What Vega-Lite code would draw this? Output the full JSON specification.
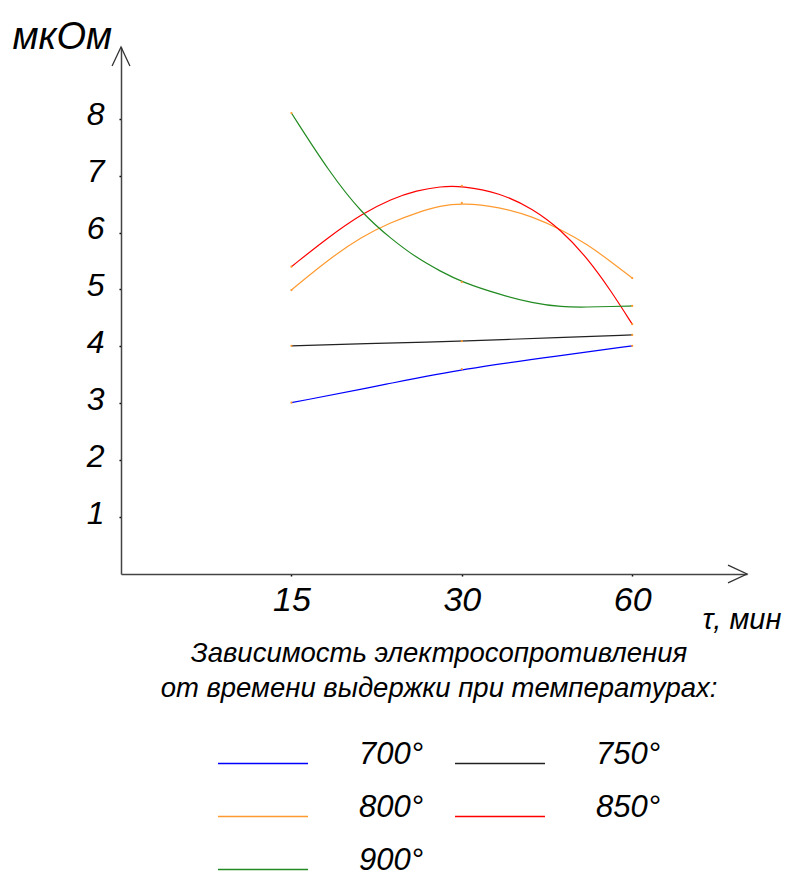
{
  "$schema": "https://vega.github.io/schema/vega-lite/v6.json",
  "width": 626,
  "height": 527,
  "autosize": {"type": "none"},
  "padding": {"left": 121, "top": 47, "right": 38, "bottom": 298},
  "background": "white",
  "config": {
    "font": "Liberation Sans",
    "view": {"stroke": null},
    "axis": {"grid": false}
  },
  "datasets": {
    "curves": [
      {"t": 15, "R": 3.01, "T": "700°"},
      {"t": 22.5, "R": 3.35, "T": "700°"},
      {"t": 30, "R": 3.6, "T": "700°"},
      {"t": 45, "R": 3.84, "T": "700°"},
      {"t": 60, "R": 4.01, "T": "700°"},
      {"t": 15, "R": 4.01, "T": "750°"},
      {"t": 22.5, "R": 4.06, "T": "750°"},
      {"t": 30, "R": 4.09, "T": "750°"},
      {"t": 45, "R": 4.16, "T": "750°"},
      {"t": 60, "R": 4.2, "T": "750°"},
      {"t": 15, "R": 4.99, "T": "800°"},
      {"t": 17.5, "R": 5.54, "T": "800°"},
      {"t": 20, "R": 5.93, "T": "800°"},
      {"t": 22.5, "R": 6.18, "T": "800°"},
      {"t": 25, "R": 6.35, "T": "800°"},
      {"t": 27.5, "R": 6.47, "T": "800°"},
      {"t": 30, "R": 6.52, "T": "800°"},
      {"t": 35, "R": 6.45, "T": "800°"},
      {"t": 40, "R": 6.28, "T": "800°"},
      {"t": 45, "R": 6.05, "T": "800°"},
      {"t": 50, "R": 5.79, "T": "800°"},
      {"t": 55, "R": 5.49, "T": "800°"},
      {"t": 60, "R": 5.2, "T": "800°"},
      {"t": 15, "R": 5.4, "T": "850°"},
      {"t": 17.5, "R": 5.93, "T": "850°"},
      {"t": 20, "R": 6.33, "T": "850°"},
      {"t": 22.5, "R": 6.59, "T": "850°"},
      {"t": 25, "R": 6.74, "T": "850°"},
      {"t": 27.5, "R": 6.81, "T": "850°"},
      {"t": 30, "R": 6.82, "T": "850°"},
      {"t": 35, "R": 6.7, "T": "850°"},
      {"t": 40, "R": 6.42, "T": "850°"},
      {"t": 45, "R": 6.04, "T": "850°"},
      {"t": 50, "R": 5.55, "T": "850°"},
      {"t": 55, "R": 4.98, "T": "850°"},
      {"t": 60, "R": 4.39, "T": "850°"},
      {"t": 15, "R": 8.1, "T": "900°"},
      {"t": 17.5, "R": 7.06, "T": "900°"},
      {"t": 20, "R": 6.33, "T": "900°"},
      {"t": 22.5, "R": 5.89, "T": "900°"},
      {"t": 25, "R": 5.55, "T": "900°"},
      {"t": 27.5, "R": 5.32, "T": "900°"},
      {"t": 30, "R": 5.13, "T": "900°"},
      {"t": 35, "R": 4.91, "T": "900°"},
      {"t": 40, "R": 4.76, "T": "900°"},
      {"t": 45, "R": 4.69, "T": "900°"},
      {"t": 50, "R": 4.69, "T": "900°"},
      {"t": 55, "R": 4.7, "T": "900°"},
      {"t": 60, "R": 4.71, "T": "900°"}
    ],
    "arrows": [
      {"t": 95.7, "R": 0, "dir": "x"},
      {"t": 7.5, "R": 9.26, "dir": "y"}
    ]
  },
  "layer": [
    {
      "data": {"name": "curves"},
      "mark": {"type": "line", "interpolate": "basis", "strokeWidth": 1.2},
      "encoding": {
        "x": {
          "field": "t",
          "type": "quantitative",
          "scale": {"type": "log", "base": 2, "domain": [7.5, 95.7], "nice": false, "zero": false},
          "axis": {
            "values": [15, 30, 60],
            "format": "d",
            "tickSize": 2,
            "tickWidth": 1.5,
            "tickColor": "#000000",
            "labelPadding": 7,
            "labelFontSize": 34,
            "labelFontStyle": "italic",
            "labelColor": "#000000",
            "labelFlush": false,
            "domainColor": "#444444",
            "domainWidth": 1.5,
            "title": "τ, мин",
            "titleX": 581,
            "titleY": 54,
            "titleAlign": "left",
            "titleBaseline": "alphabetic",
            "titleFontSize": 29,
            "titleFontWeight": "normal",
            "titleFontStyle": "italic",
            "titleColor": "#000000"
          }
        },
        "y": {
          "field": "R",
          "type": "quantitative",
          "scale": {"domain": [0, 9.26], "nice": false},
          "axis": {
            "values": [1, 2, 3, 4, 5, 6, 7, 8],
            "format": "d",
            "tickSize": 2,
            "tickWidth": 1.5,
            "tickColor": "#000000",
            "labelPadding": 15,
            "labelFontSize": 32,
            "labelFontStyle": "italic",
            "labelColor": "#000000",
            "labelBaseline": "alphabetic",
            "labelOffset": 6,
            "domainColor": "#444444",
            "domainWidth": 1.5,
            "title": "мкОм",
            "titleAngle": 0,
            "titleX": -109,
            "titleY": 1,
            "titleAlign": "left",
            "titleBaseline": "alphabetic",
            "titleFontSize": 38,
            "titleFontWeight": "normal",
            "titleFontStyle": "italic",
            "titleColor": "#000000"
          }
        },
        "color": {
          "field": "T",
          "type": "nominal",
          "scale": {
            "domain": ["700°", "750°", "800°", "850°", "900°"],
            "range": ["#0000ff", "#222222", "#ff9a30", "#ff0000", "#228b22"]
          },
          "legend": {
            "orient": "none",
            "legendX": 40,
            "legendY": 593,
            "direction": "horizontal",
            "columns": 2,
            "title": ["Зависимость электросопротивления", "от времени выдержки при температурах:"],
            "titleAnchor": "middle",
            "titleAlign": "center",
            "titleFontSize": 27.5,
            "titleFontStyle": "italic",
            "titleFontWeight": "normal",
            "titleLineHeight": 35,
            "titleColor": "#000000",
            "titleLimit": 2000,
            "titlePadding": 15,
            "symbolType": "stroke",
            "symbolSize": 8100,
            "symbolStrokeWidth": 1.5,
            "labelOffset": 50,
            "labelFontSize": 31,
            "labelFontStyle": "italic",
            "labelColor": "#000000",
            "labelBaseline": "alphabetic",
            "labelLimit": 0,
            "columnPadding": 28,
            "rowPadding": 1
          }
        }
      }
    },
    {
      "data": {"name": "curves"},
      "transform": [{"filter": {"field": "t", "oneOf": [15, 30, 60]}}],
      "mark": {"type": "point", "filled": true, "color": "#ff9a30", "opacity": 1, "size": 5},
      "encoding": {
        "x": {"field": "t", "type": "quantitative"},
        "y": {"field": "R", "type": "quantitative"}
      }
    },
    {
      "data": {"name": "arrows"},
      "mark": {"type": "point", "filled": false, "stroke": "#333333", "strokeWidth": 1.3, "opacity": 1, "size": 1444},
      "encoding": {
        "x": {"field": "t", "type": "quantitative"},
        "y": {"field": "R", "type": "quantitative"},
        "shape": {
          "field": "dir",
          "type": "nominal",
          "scale": {"domain": ["x", "y"], "range": ["M-1,-0.47L0,0L-1,0.47", "M-0.47,1L0,0L0.47,1"]},
          "legend": null
        }
      }
    }
  ]
}
